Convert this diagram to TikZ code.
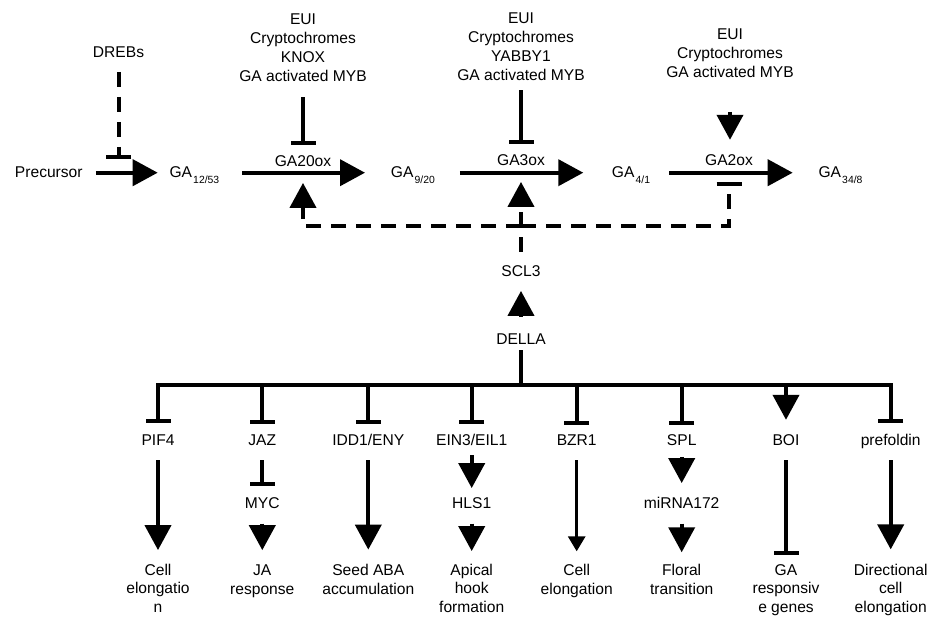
\documentclass[tikz,border=0pt]{standalone}
\usepackage{fontspec}
\setmainfont{Liberation Sans}
\usetikzlibrary{arrows.meta}
% GA with its subscript numbers
\newcommand\GAsub[1]{GA\kern1.2pt\raisebox{-6pt}{\fontsize{10.4}{12}\selectfont #1}}
\begin{document}
\begin{tikzpicture}[x=1pt,y=-1pt,
  lbl/.style={inner sep=0pt, anchor=base, text height=11.6pt, text depth=3pt,
              font=\fontsize{15.6}{18.7}\selectfont},
  % multi-line blocks are placed by the baseline of their last line
  blk/.style={inner sep=0pt, anchor=base, align=center,
              font=\fontsize{15.6}{18.7}\selectfont},
  wire/.style={line width=4pt},
  act/.style={wire, -{Triangle[length=25pt,width=26pt]}},
  actsmall/.style={line width=3pt, -{Triangle[length=15pt,width=17pt]}},
  inh/.style={wire, -{Bar[width=25pt]}},
  fb/.style={wire, dash pattern=on 15pt off 10pt},
]
\useasboundingbox[fill=white] (0,0) rectangle (929,619);

% ---- biosynthesis / catabolism chain ----
\node[lbl] (precursor) at (48.8,177) {Precursor};
\node[lbl, anchor=base west] (ga1253) at (169.3,177) {\GAsub{12/53}};
\node[lbl, anchor=base west] (ga920) at (390.7,177) {\GAsub{9/20}};
\node[lbl, anchor=base west] (ga41) at (611.7,177) {\GAsub{4/1}};
\node[lbl, anchor=base west] (ga348) at (818.3,177) {\GAsub{34/8}};

\draw[act, shorten <=13pt, shorten >=11.6pt] (precursor.east) -- (ga1253.west);
\draw[act, shorten <=22.9pt, shorten >=25.7pt] (ga1253.east) -- (ga920.west);
\draw[act, shorten <=24.8pt, shorten >=28.4pt] (ga920.east) -- (ga41.west);
\draw[act, shorten <=19pt, shorten >=25.6pt] (ga41.east) -- (ga348.west);

% enzymes
\node[lbl] (ga20ox) at (303,166.5) {GA20ox};
\node[lbl] (ga3ox) at (521,165.5) {GA3ox};
\node[lbl] (ga2ox) at (729,165.5) {GA2ox};

% regulators of the enzymes
\node[blk] (reg20) at (303,81) {EUI\\Cryptochromes\\KNOX\\GA activated MYB};
\node[blk] (reg3) at (521,80) {EUI\\Cryptochromes\\YABBY1\\GA activated MYB};
\node[blk] (reg2) at (730,77) {EUI\\Cryptochromes\\GA activated MYB};
\node[lbl] (drebs) at (118.5,57) {DREBs};

\draw[inh, shorten <=16pt, shorten >=10.2pt] (reg20.south) -- (reg20.south |- ga20ox.north);
\draw[inh, shorten <=9.8pt, shorten >=10.2pt] (reg3.south) -- (reg3.south |- ga3ox.north);
\draw[act, shorten <=34.5pt, shorten >=13.9pt] (reg2.south) -- (reg2.south |- ga2ox.north);
\draw[fb, -{Bar[width=25pt]}, shorten <=11.7pt, shorten >=14pt]
  (drebs.south) -- (drebs.south |- ga1253.center);

% ---- DELLA / SCL3 feedback ----
\node[lbl] (scl3) at (521,276.7) {SCL3};
\node[lbl] (della) at (521,344) {DELLA};
\draw[act, shorten <=15.1pt, shorten >=11pt] (della.north) -- (scl3.south);

\coordinate (fbjoin) at (521,226);
\draw[fb, -{Triangle[length=25pt,width=26pt]}, shorten <=13.4pt, shorten >=13.2pt]
  (scl3.north) -- (ga3ox.south);
\draw[fb, -{Triangle[length=25pt,width=26pt]}, shorten >=13.2pt] (fbjoin) -| (ga20ox.south);
\draw[fb, -{Bar[width=25pt]}, shorten >=12.8pt] (fbjoin) -| (ga2ox.south);

% ---- DELLA targets ----
\coordinate (bus) at (521,384.5);
\node[lbl] (pif4) at (158,445.5) {PIF4};
\node[lbl] (jaz) at (262.3,445.5) {JAZ};
\node[lbl] (idd1) at (368.3,445.5) {IDD1/ENY};
\node[lbl] (ein3) at (471.7,445.5) {EIN3/EIL1};
\node[lbl] (bzr1) at (576.7,445.5) {BZR1};
\node[lbl] (spl) at (681.7,445.5) {SPL};
\node[lbl] (boi) at (786,445.5) {BOI};
\node[lbl] (prefoldin) at (890.7,445.5) {prefoldin};

\draw[wire, shorten <=3pt] (della.south) -- (bus);
\draw[wire, {Bar[width=25pt]}-{Bar[width=25pt]}, shorten <=11pt, shorten >=11pt]
  (pif4.north) |- (bus) -| (prefoldin.north);
\draw[inh, shorten >=10.2pt] (jaz |- bus) -- (jaz.north);
\draw[inh, shorten >=10.2pt] (idd1 |- bus) -- (idd1.north);
\draw[inh, shorten >=10.2pt] (ein3 |- bus) -- (ein3.north);
\draw[inh, shorten >=8.6pt] (bzr1 |- bus) -- (bzr1.north);
\draw[inh, shorten >=9.2pt] (spl |- bus) -- (spl.north);
\draw[act, shorten >=13.9pt] (boi |- bus) -- (boi.north);

% intermediates
\node[lbl] (myc) at (262.3,508.3) {MYC};
\node[lbl] (hls1) at (471.7,508.3) {HLS1};
\node[lbl] (mirna) at (681.7,508.3) {miRNA172};

% responses
\node[blk] (cell1) at (158,612.5) {Cell\\elongatio\\n};
\node[blk] (jaresp) at (262.3,594) {JA\\response};
\node[blk] (seedaba) at (368.3,594) {Seed ABA\\accumulation};
\node[blk] (apical) at (471.7,612.5) {Apical\\hook\\formation};
\node[blk] (cell2) at (576.7,594) {Cell\\elongation};
\node[blk] (floral) at (681.7,594) {Floral\\transition};
\node[blk] (garesp) at (786,612.5) {GA\\responsiv\\e genes};
\node[blk] (direc) at (890.7,612.5) {Directional\\cell\\elongation};

\draw[act, shorten <=11.5pt, shorten >=13.5pt] (pif4.south) -- (cell1.north);
\draw[inh, shorten <=11.5pt, shorten >=10.7pt] (jaz.south) -- (myc.north);
\draw[act, shorten <=12pt, shorten >=14.2pt] (myc.south) -- (jaresp.north);
\draw[act, shorten <=11.5pt, shorten >=14.2pt] (idd1.south) -- (seedaba.north);
\draw[act, shorten <=6.5pt, shorten >=8.4pt] (ein3.south) -- (hls1.north);
\draw[act, shorten <=12pt, shorten >=12.5pt] (hls1.south) -- (apical.north);
\draw[actsmall, shorten <=11.5pt, shorten >=12.5pt] (bzr1.south) -- (cell2.north);
\draw[act, shorten <=8.2pt, shorten >=13.4pt] (spl.south) -- (mirna.north);
\draw[act, shorten <=12pt, shorten >=11.5pt] (mirna.south) -- (floral.north);
\draw[inh, shorten <=11.5pt, shorten >=9.5pt] (boi.south) -- (garesp.north);
\draw[act, shorten <=11.5pt, shorten >=14.2pt] (prefoldin.south) -- (direc.north);
\end{tikzpicture}
\end{document}
